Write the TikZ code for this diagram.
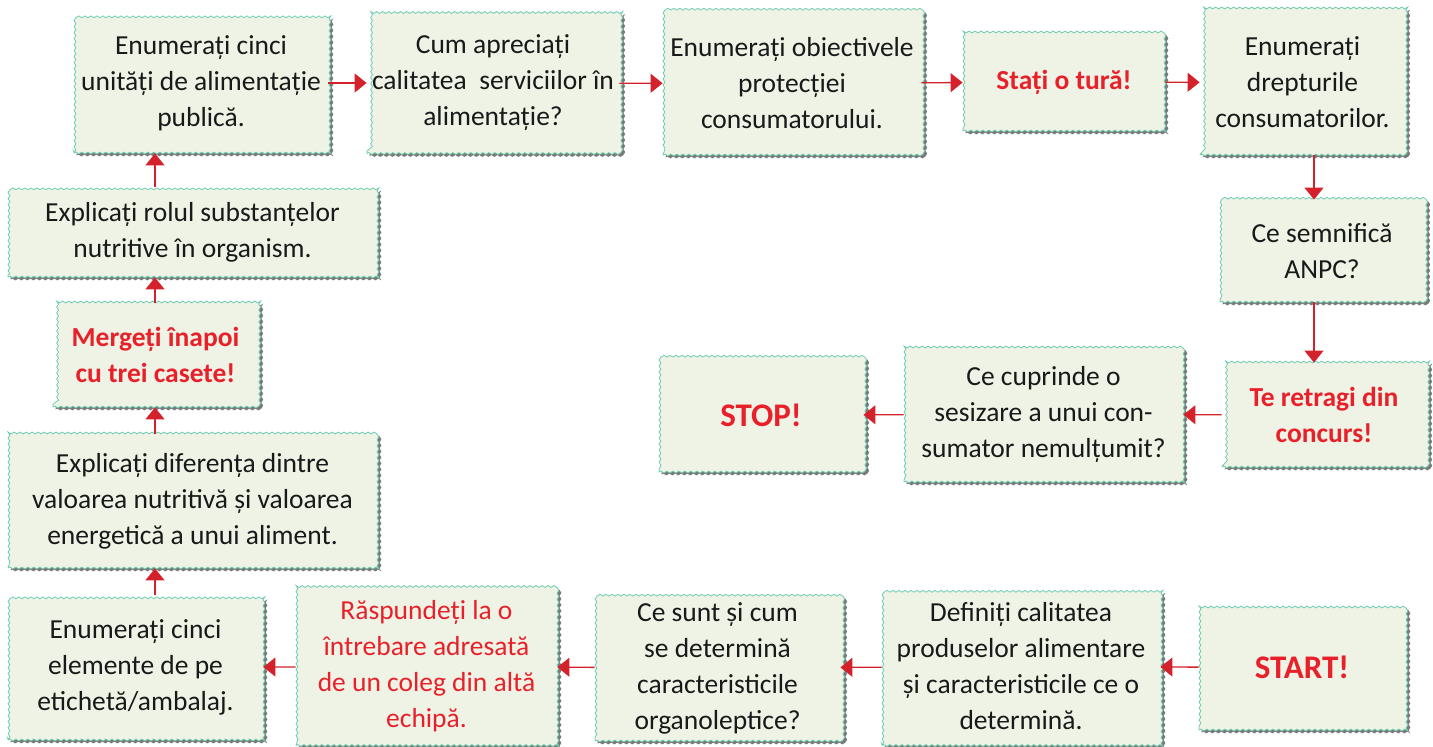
\documentclass[tikz,border=0pt]{standalone}
\usepackage{fontspec}
\setmainfont{Carlito}
\usepackage{xcolor}
\usetikzlibrary{arrows.meta}
\usetikzlibrary{shadows}
\usetikzlibrary{decorations.pathmorphing}
\definecolor{boxfill}{RGB}{238,243,230}
\definecolor{boxline}{RGB}{110,205,175}
\definecolor{alarm}{RGB}{232,32,42}
\definecolor{arrowred}{RGB}{212,34,44}

\begin{document}
\begin{tikzpicture}[x=1pt,y=-1pt,
    every node/.style={black!90},
    card/.style={draw=boxline,fill=boxfill,line width=0.8pt,align=center,inner sep=2pt,
        font=\fontsize{27.5}{36}\selectfont,
        decorate,decoration={snake,amplitude=0.9pt,segment length=6pt},
        drop shadow={shadow xshift=2.5pt,shadow yshift=-2.5pt,fill=black!65,opacity=0.8}},
    warn/.style={card,text=alarm,font=\fontsize{27.5}{36}\selectfont\bfseries},
    big/.style={card,text=alarm,font=\fontsize{33}{38}\selectfont\bfseries},
    arr/.style={draw=arrowred,line width=1.3pt,-{Triangle[width=19pt,length=12pt,fill=arrowred]}}
]
    \useasboundingbox (0,0) rectangle (1433,747);
    \coordinate (colL) at (155,0);
    \coordinate (colR) at (1314,0);

    % top row
    \node[card,minimum width=254,minimum height=140] (unitati) at (201,83)
        {Enumerați cinci\\unități de alimentație\\publică.};
    \node[card,minimum width=252,minimum height=141] (calitate) at (493,83)
        {Cum apreciați\\calitatea\ \ serviciilor în\\alimentație?};
    \node[card,minimum width=258,minimum height=143] (obiective) at (792,83.5)
        {Enumerați obiectivele\\protecției\\consumatorului.};
    \node[warn,minimum width=202,minimum height=98] (tura) at (1064,82)
        {Stați o tură!};
    \node[card,minimum width=205,minimum height=145] (drepturi) at (1302.5,82.5)
        {Enumerați\\drepturile\\consumatorilor.};

    % right side
    \node[card,minimum width=204,minimum height=102] (anpc) at (1322,251)
        {Ce semnifică\\ANPC?};
    \node[warn,minimum width=204,minimum height=104] (retragi) at (1324,415)
        {Te retragi din\\concurs!};
    \node[card,minimum width=279,minimum height=135] (sesizare) at (1043.5,414.5)
        {Ce cuprinde o\\sesizare a unui con-\\sumator nemulțumit?};
    \node[big,minimum width=204,minimum height=114] (stop) at (761,415)
        {STOP!};

    % bottom row
    \node[big,minimum width=206,minimum height=125] (start) at (1302,667.5)
        {START!};
    \node[card,minimum width=278,minimum height=158] (definiti) at (1021,666.5)
        {Definiți calitatea\\produselor alimentare\\și caracteristicile ce o\\determină.};
    \node[card,minimum width=245,minimum height=146] (organo) at (717.5,668)
        {Ce sunt și cum\\se determină\\caracteristicile\\organoleptice?};
    \node[card,text=alarm,minimum width=261,minimum height=158] (raspuns) at (426.5,666.5)
        {Răspundeți la o\\întrebare adresată\\de un coleg din altă\\echipă.};
    \node[card,minimum width=255,minimum height=145] (eticheta) at (135.5,667.5)
        {Enumerați cinci\\elemente de pe\\etichetă/ambalaj.};

    % left side
    \node[card,minimum width=369,minimum height=134] (diferenta) at (192.5,501)
        {Explicați diferența dintre\\valoarea nutritivă și valoarea\\energetică a unui aliment.};
    \node[warn,minimum width=205,minimum height=104] (inapoi) at (155.5,355)
        {Mergeți înapoi\\cu trei casete!};
    \node[card,minimum width=369,minimum height=90] (rolul) at (192.5,232)
        {Explicați rolul substanțelor\\nutritive în organism.};

    \draw[arr] (unitati) -- (calitate);
    \draw[arr] (calitate) -- (obiective);
    \draw[arr] (obiective) -- (tura);
    \draw[arr] (tura) -- (drepturi);
    \draw[arr] (drepturi.south -| colR) -- (anpc.north -| colR);
    \draw[arr] (anpc.south -| colR) -- (retragi.north -| colR);
    \draw[arr] (retragi) -- (sesizare);
    \draw[arr] (sesizare) -- (stop);

    \draw[arr] (start) -- (definiti);
    \draw[arr] (definiti) -- (organo);
    \draw[arr] (organo) -- (raspuns);
    \draw[arr] (raspuns) -- (eticheta);
    \draw[arr] (eticheta.north -| colL) -- (diferenta.south -| colL);
    \draw[arr] (diferenta.north -| colL) -- (inapoi.south -| colL);
    \draw[arr] (inapoi.north -| colL) -- (rolul.south -| colL);
    \draw[arr] (rolul.north -| colL) -- (unitati.south -| colL);
\end{tikzpicture}
\end{document}
